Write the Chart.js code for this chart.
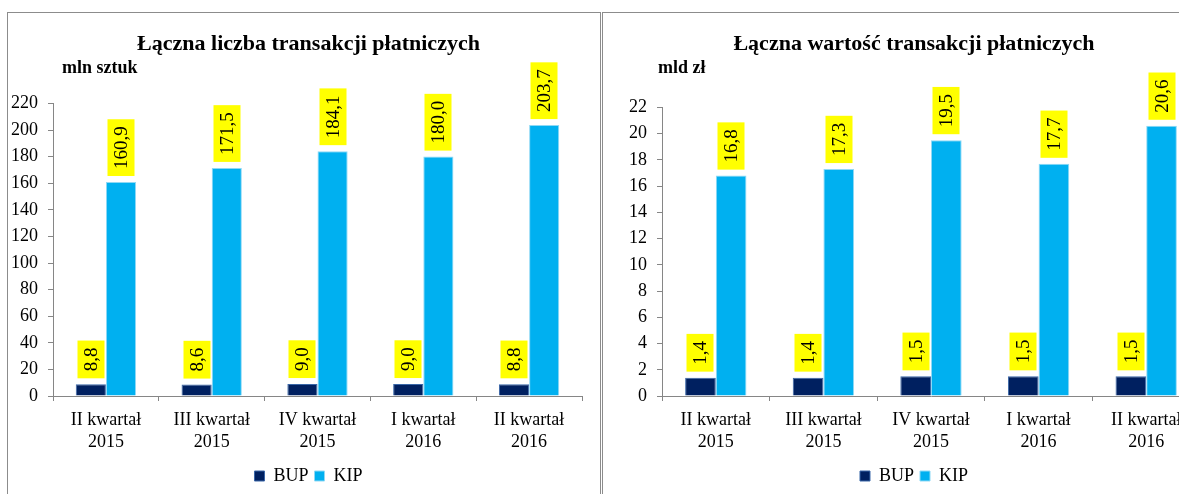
<!DOCTYPE html>
<html lang="pl">
<head>
<meta charset="utf-8">
<title>Łączna liczba i wartość transakcji płatniczych</title>
<script src="https://cdn.jsdelivr.net/npm/chart.js@4.4.1/dist/chart.umd.min.js"></script>
<style>
  html, body { margin: 0; padding: 0; background: #fff; overflow: hidden; }
  body { width: 1179px; height: 494px; position: relative; }
  .panel { position: absolute; top: 12px; height: 520px; border: 1px solid #8c8c8c; box-sizing: border-box; }
  #panelCount { left: 7px; width: 594px; }
  #panelValue { left: 602px; width: 640px; }
  .panel canvas { position: absolute; left: 0; top: 0; }
</style>
</head>
<body>
<div class="panel" id="panelCount"><canvas id="countChart" width="598" height="487"></canvas></div>
<div class="panel" id="panelValue"><canvas id="valueChart" width="620" height="487"></canvas></div>
<script>
// Quarters on the x axis (two-line labels)
const quarters = [
    ['II kwartał', '2015'],
    ['III kwartał', '2015'],
    ['IV kwartał', '2015'],
    ['I kwartał', '2016'],
    ['II kwartał', '2016']
];
const seriesNames = ['BUP', 'KIP'];

// Number of payment transactions, mln
const countBUP = [8.8, 8.6, 9.0, 9.0, 8.8];
const countKIP = [160.9, 171.5, 184.1, 180.0, 203.7];

// Value of payment transactions, bn zł
const valueBUP = [1.4, 1.4, 1.5, 1.5, 1.5];
const valueKIP = [16.8, 17.3, 19.5, 17.7, 20.6];

const SERIF = '"Liberation Serif", "Times New Roman", serif';
const AXIS_GREY = '#868686';

// Yellow rotated value boxes above each bar
const barLabels = {
    id: 'barLabels',
    afterDatasetsDraw(chart) {
        const ctx = chart.ctx;
        ctx.save();
        ctx.font = '19px ' + SERIF;
        ctx.textBaseline = 'middle';
        ctx.textAlign = 'left';
        chart.data.datasets.forEach((ds, i) => {
            chart.getDatasetMeta(i).data.forEach((bar, j) => {
                const text = ds.data[j].toFixed(1).replace('.', ',');
                const len = ctx.measureText(text).width + 14;
                ctx.save();
                ctx.translate(Math.round(bar.x), bar.y - 6);
                ctx.rotate(-Math.PI / 2);
                ctx.fillStyle = '#ffff00';
                ctx.fillRect(0, -13.5, len, 27);
                ctx.fillStyle = '#000';
                ctx.fillText(text, 7, 1);
                ctx.restore();
            });
        });
        ctx.restore();
    }
};

// Unit caption under the title
const unitLabel = {
    id: 'unitLabel',
    afterDraw(chart, args, opts) {
        const ctx = chart.ctx;
        ctx.save();
        ctx.font = 'bold 18px ' + SERIF;
        ctx.fillStyle = '#000';
        ctx.textBaseline = 'alphabetic';
        ctx.fillText(opts.text, opts.x, opts.y);
        ctx.restore();
    }
};

function makeChart(id, cfg) {
    const ctx = document.getElementById(id).getContext('2d');

    const scales = {
        x: {
            grid: {
                display: true,
                drawOnChartArea: false,
                drawTicks: true,
                tickLength: 5,
                color: AXIS_GREY,
                offset: true
            },
            border: { color: AXIS_GREY },
            ticks: {
                color: '#000',
                font: { family: SERIF, size: 18, lineHeight: 1.222 },
                padding: 8,
                maxRotation: 0,
                autoSkip: false
            }
        },
        y: {
            min: 0,
            max: cfg.max,
            afterFit: scale => { scale.width = cfg.axisWidth; },
            grid: {
                display: true,
                drawOnChartArea: false,
                drawTicks: true,
                tickLength: 5,
                color: AXIS_GREY
            },
            border: { color: AXIS_GREY },
            ticks: {
                stepSize: cfg.step,
                color: '#000',
                font: { family: SERIF, size: 18 },
                padding: 10
            }
        }
    };
    // empty right-hand spacer so the title and legend centre like the original
    if (cfg.spacer) {
        scales.spacer = {
            type: 'linear',
            position: 'right',
            grid: { display: false },
            border: { display: false },
            ticks: { display: false },
            afterFit: scale => { scale.width = cfg.spacer; }
        };
    }

    return new Chart(ctx, {
        type: 'bar',
        data: {
            labels: quarters,
            datasets: [{
                label: seriesNames[0],
                data: cfg.bup,
                backgroundColor: '#002060',
                borderColor: '#3a67a8',
                borderWidth: 1,
                categoryPercentage: 0.57,
                barPercentage: 1
            }, {
                label: seriesNames[1],
                data: cfg.kip,
                backgroundColor: '#00b0f0',
                borderColor: '#8fd9f5',
                borderWidth: 1,
                categoryPercentage: 0.57,
                barPercentage: 1
            }]
        },
        plugins: [barLabels, unitLabel],
        options: {
            responsive: false,
            animation: false,
            devicePixelRatio: 1,
            layout: {
                padding: { left: cfg.padLeft, right: cfg.padRight, top: 0, bottom: 5 }
            },
            plugins: {
                title: {
                    display: true,
                    text: cfg.title,
                    color: '#000',
                    font: { family: SERIF, size: 22, weight: 'bold', lineHeight: 1.2 },
                    padding: { top: 18, bottom: cfg.titleGap }
                },
                legend: {
                    position: 'bottom',
                    labels: {
                        color: '#000',
                        font: { family: SERIF, size: 18 },
                        boxWidth: 10,
                        boxHeight: 10,
                        padding: 6
                    }
                },
                tooltip: { enabled: false },
                unitLabel: { text: cfg.unit, x: cfg.unitX, y: 60 }
            },
            scales: scales
        }
    });
}

makeChart('countChart', {
    title: 'Łączna liczba transakcji płatniczych',
    unit: 'mln sztuk',
    unitX: 54,
    bup: countBUP,
    kip: countKIP,
    max: 220,
    step: 20,
    padLeft: 3,
    padRight: 0,
    spacer: 24,
    axisWidth: 42,
    titleGap: 46
});

makeChart('valueChart', {
    title: 'Łączna wartość transakcji płatniczych',
    unit: 'mld zł',
    unitX: 55,
    bup: valueBUP,
    kip: valueKIP,
    max: 22,
    step: 2,
    padLeft: 25,
    padRight: 23,
    spacer: 0,
    axisWidth: 34,
    titleGap: 50
});
</script>
</body>
</html>
